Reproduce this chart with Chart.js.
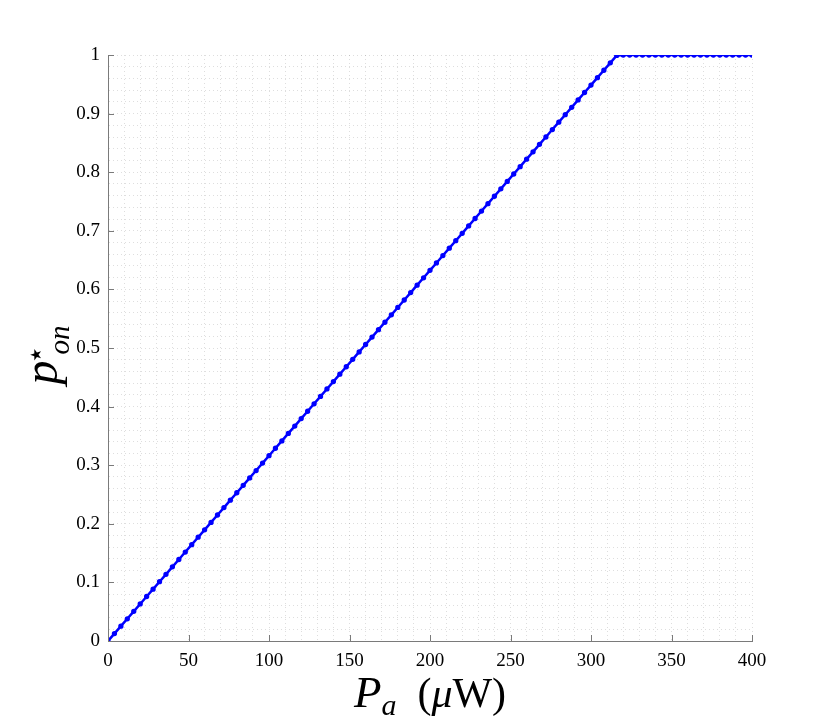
<!DOCTYPE html>
<html>
<head>
<meta charset="utf-8">
<script src="https://cdn.jsdelivr.net/npm/chart.js@4.4.1/dist/chart.umd.min.js"></script>
<style>
  html, body { margin: 0; padding: 0; background: #fff; }
  #wrap { width: 830px; height: 721px; }
</style>
</head>
<body>
<div id="wrap"><canvas id="onProb"></canvas></div>
<script>
// received power P_a (uW) and optimal on-probability
var powerUW = [0, 4, 8, 12, 16, 20, 24, 28, 32, 36, 40, 44, 48, 52, 56, 60, 64, 68, 72, 76,
  80, 84, 88, 92, 96, 100, 104, 108, 112, 116, 120, 124, 128, 132, 136, 140, 144, 148, 152, 156,
  160, 164, 168, 172, 176, 180, 184, 188, 192, 196, 200, 204, 208, 212, 216, 220, 224, 228, 232, 236,
  240, 244, 248, 252, 256, 260, 264, 268, 272, 276, 280, 284, 288, 292, 296, 300, 304, 308, 312, 316,
  320, 324, 328, 332, 336, 340, 344, 348, 352, 356, 360, 364, 368, 372, 376, 380, 384, 388, 392, 396, 400];
var pOn = [0, 0.0126, 0.0253, 0.0379, 0.0506, 0.0632, 0.0759, 0.0885, 0.1012, 0.1138, 0.1265, 0.1391, 0.1518, 0.1644, 0.1771, 0.1897, 0.2024, 0.2150, 0.2277, 0.2403,
  0.2530, 0.2656, 0.2783, 0.2909, 0.3036, 0.3162, 0.3289, 0.3415, 0.3542, 0.3668, 0.3795, 0.3921, 0.4048, 0.4174, 0.4301, 0.4427, 0.4554, 0.4680, 0.4807, 0.4933,
  0.5060, 0.5186, 0.5313, 0.5439, 0.5566, 0.5692, 0.5819, 0.5945, 0.6072, 0.6198, 0.6325, 0.6451, 0.6578, 0.6704, 0.6831, 0.6957, 0.7084, 0.7210, 0.7337, 0.7463,
  0.7590, 0.7716, 0.7843, 0.7969, 0.8095, 0.8222, 0.8348, 0.8475, 0.8601, 0.8728, 0.8854, 0.8981, 0.9107, 0.9234, 0.9360, 0.9487, 0.9613, 0.9740, 0.9866, 0.9993,
  1, 1, 1, 1, 1, 1, 1, 1, 1, 1, 1, 1, 1, 1, 1, 1, 1, 1, 1, 1, 1];

var xMajor = 50, yMajor = 0.1;
var serif = "'Liberation Serif', 'DejaVu Serif', serif";
var axisGray = "#7a7a7a";

var points = powerUW.map(function (x, i) { return { x: x, y: pOn[i] }; });

// inward tick marks + math-style axis titles
var decorations = {
  id: "decorations",
  afterDraw: function (chart) {
    var ctx = chart.ctx, a = chart.chartArea;
    var xs = chart.scales.x, ys = chart.scales.y;
    ctx.save();
    ctx.strokeStyle = axisGray;
    ctx.lineWidth = 1;
    ctx.beginPath();
    for (var v = 0; v <= 400; v += xMajor) {
      var px = Math.round(xs.getPixelForValue(v)) + 0.5;
      ctx.moveTo(px, a.bottom); ctx.lineTo(px, a.bottom - 6);
    }
    for (var k = 0; k <= 10; k++) {
      var py = Math.round(ys.getPixelForValue(k * yMajor)) + 0.5;
      ctx.moveTo(a.left, py); ctx.lineTo(a.left + 6, py);
    }
    ctx.stroke();

    ctx.fillStyle = "#000";
    ctx.textBaseline = "alphabetic";
    // x title: P_a (μW)
    var cx = (a.left + a.right) / 2, by = 707;
    var parts = [
      { t: "P", f: "italic 45px " + serif, dy: 0 },
      { t: "a", f: "italic 30px " + serif, dy: 8 },
      { t: "  (", f: "42px " + serif, dy: 0 },
      { t: "\u03bc", f: "italic 42px " + serif, dy: 0 },
      { t: "W)", f: "42px " + serif, dy: 0 }
    ];
    var total = 0;
    parts.forEach(function (p) { ctx.font = p.f; p.w = ctx.measureText(p.t).width; total += p.w; });
    var x0 = cx - total / 2;
    parts.forEach(function (p) { ctx.font = p.f; ctx.fillText(p.t, x0, by + p.dy); x0 += p.w; });

    // y title: p*_on
    ctx.translate(57, 355);
    ctx.rotate(-Math.PI / 2);
    ctx.font = "italic 48px " + serif;
    var pw = ctx.measureText("p").width;
    ctx.font = "italic 29px " + serif;
    var ow = ctx.measureText("on").width;
    var sx = -(pw + 6 + ow) / 2;
    ctx.font = "italic 48px " + serif;
    ctx.fillText("p", sx, 0);
    ctx.font = "15px 'DejaVu Sans', sans-serif";
    ctx.fillText("\u2605", sx + pw - 1, -16);
    ctx.font = "italic 29px " + serif;
    ctx.fillText("on", sx + pw + 6, 12);
    ctx.restore();
  }
};

var cfg = {
  type: "scatter",
  data: {
    datasets: [{
      data: points,
      showLine: true,
      borderColor: "#0000ff",
      backgroundColor: "#0000ff",
      borderWidth: 2.5,
      pointRadius: 1.4,
      pointHoverRadius: 1.4
    }]
  },
  options: {
    responsive: true,
    maintainAspectRatio: false,
    animation: false,
    layout: { padding: { left: 0, right: 78, top: 55, bottom: 0 } },
    plugins: { legend: { display: false }, tooltip: { enabled: false } },
    scales: {
      x: {
        type: "linear", min: 0, max: 400,
        afterFit: function (s) { s.height = 80; },
        ticks: {
          stepSize: 10, maxRotation: 0, autoSkip: false, padding: 9,
          color: "#000", font: { family: serif, size: 19 },
          callback: function (v) { return v % xMajor === 0 ? String(v) : ""; }
        },
        grid: { color: "rgba(0,0,0,0.13)", drawTicks: false, lineWidth: 1 },
        border: { color: axisGray, dash: [1, 3] }
      },
      y: {
        type: "linear", min: 0, max: 1,
        afterFit: function (s) { s.width = 108; },
        ticks: {
          stepSize: 0.02, autoSkip: false, padding: 8,
          color: "#000", font: { family: serif, size: 19 },
          callback: function (v) {
            var n = Math.round(v * 100);
            return n % 10 === 0 ? String(n / 100) : "";
          }
        },
        grid: { color: "rgba(0,0,0,0.13)", drawTicks: false, lineWidth: 1 },
        border: { color: axisGray, dash: [1, 3] }
      }
    }
  },
  plugins: [decorations]
};

new Chart(document.getElementById("onProb").getContext("2d"), cfg);
</script>
</body>
</html>
